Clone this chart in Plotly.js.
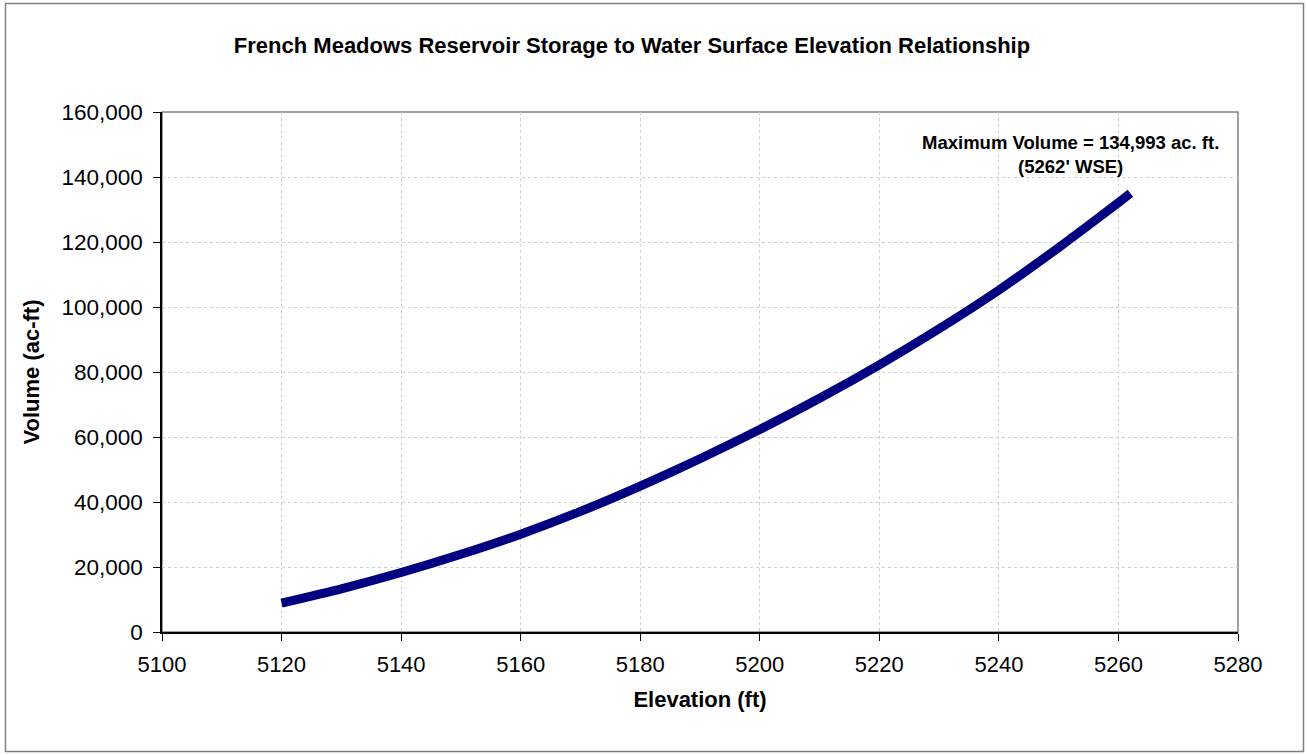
<!DOCTYPE html>
<html>
<head>
<meta charset="utf-8">
<script src="https://cdn.plot.ly/plotly-3.0.1.min.js"></script>
<style>
html,body{margin:0;padding:0;background:#fff;}
#chart{width:1307px;height:755px;}
</style>
</head>
<body>
<div id="chart"></div>
<script>
// Data
const elevation = [5120, 5130, 5140, 5150, 5160, 5170, 5180, 5190, 5200, 5210, 5220, 5230, 5240, 5250, 5260, 5262];
const volume    = [8900, 13300, 18300, 23900, 30100, 37100, 44900, 53300, 62300, 71900, 82200, 93300, 105200, 118300, 132100, 134993];
const xTicks = [5100, 5120, 5140, 5160, 5180, 5200, 5220, 5240, 5260, 5280];
const yTicks = [0, 20000, 40000, 60000, 80000, 100000, 120000, 140000, 160000];
const yTickLabels = ["0", "20,000", "40,000", "60,000", "80,000", "100,000", "120,000", "140,000", "160,000"];
const chartTitle = "French Meadows Reservoir Storage to Water Surface Elevation Relationship";
const xTitle = "Elevation (ft)";
const yTitle = "Volume (ac-ft)";
const maxNote = "Maximum Volume = 134,993 ac. ft.<br>(5262' WSE)";
const maxNotePos = {x: 5251.9, y: 146800};

const FONT = "Arial, 'Liberation Sans', sans-serif";

const trace = {
  x: elevation,
  y: volume,
  type: "scatter",
  mode: "lines",
  line: {color: "#000080", width: 9, shape: "spline", smoothing: 0.6},
  hoverinfo: "x+y",
  showlegend: false
};

const L = 162, R = 1238, T = 112, B = 632, W = 1307, H = 755;
const pw = R - L, ph = B - T;
const px = v => (v - L) / pw;
const py = v => (B - v) / ph;

const layout = {
  width: W, height: H,
  margin: {l: L, r: W - R, t: T, b: H - B, pad: 0},
  paper_bgcolor: "#ffffff",
  plot_bgcolor: "#ffffff",
  font: {family: FONT, color: "#000000"},
  title: {
    text: "<b>" + chartTitle + "</b>",
    font: {family: FONT, size: 22, color: "#000"},
    x: 632 / W, xanchor: "center",
    y: 1 - 45 / H, yanchor: "middle"
  },
  xaxis: {
    range: [5100, 5280],
    tickmode: "array", tickvals: xTicks, ticktext: xTicks.map(String),
    ticks: "outside", ticklen: 7, tickwidth: 1, tickcolor: "#000",
    ticklabelstandoff: 5,
    showline: true, linecolor: "#000", linewidth: 1.5,
    showgrid: true, gridcolor: "#d0d0d0", gridwidth: 1, griddash: "dot",
    zeroline: false,
    tickfont: {family: FONT, size: 22, color: "#000"},
    title: {text: "<b>" + xTitle + "</b>", font: {family: FONT, size: 22, color: "#000"}, standoff: 15}
  },
  yaxis: {
    range: [0, 160000],
    tickmode: "array", tickvals: yTicks, ticktext: yTickLabels,
    ticks: "outside", ticklen: 7, tickwidth: 1, tickcolor: "#000",
    ticklabelstandoff: 6,
    showline: true, linecolor: "#000", linewidth: 1.5,
    showgrid: true, gridcolor: "#d0d0d0", gridwidth: 1, griddash: "dot",
    zeroline: false,
    tickfont: {family: FONT, size: 22.5, color: "#000"},
    title: {text: "<b>" + yTitle + "</b>", font: {family: FONT, size: 22, color: "#000"}, standoff: 16}
  },
  shapes: [
    {type: "rect", xref: "paper", yref: "paper", x0: 0, x1: 1, y0: 0, y1: 1,
     line: {color: "#808080", width: 1.5}, layer: "below"},
    {type: "rect", xref: "paper", yref: "paper",
     x0: px(5.5), x1: px(1303.5), y0: py(751.5), y1: py(3.5),
     line: {color: "#808080", width: 1.5}, layer: "below"}
  ],
  annotations: [
    {x: maxNotePos.x, y: maxNotePos.y, xref: "x", yref: "y",
     text: "<b>" + maxNote + "</b>", showarrow: false,
     font: {family: FONT, size: 18.5, color: "#000"}, align: "center",
     xanchor: "center", yanchor: "middle"}
  ]
};

Plotly.newPlot("chart", [trace], layout, {displayModeBar: false});
</script>
</body>
</html>
